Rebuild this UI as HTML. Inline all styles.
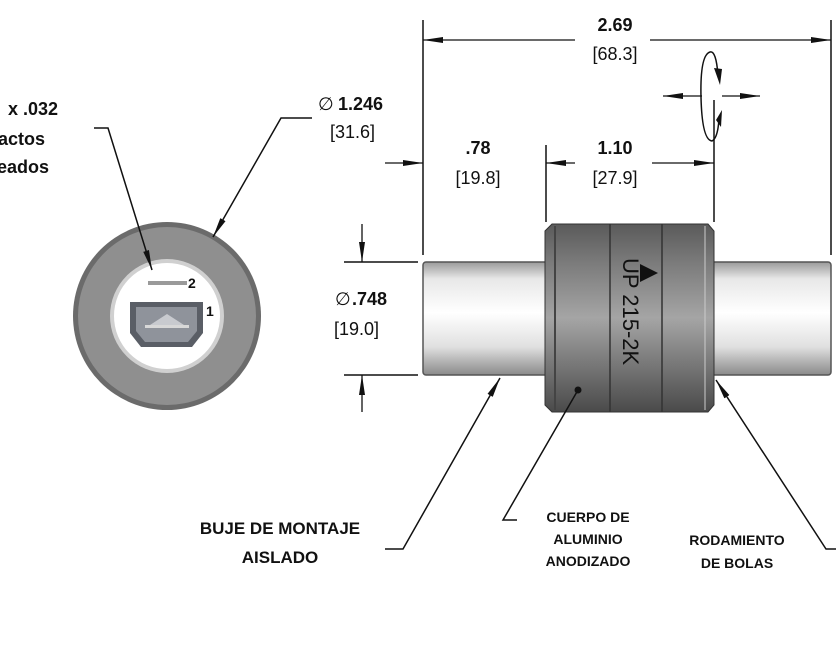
<!DOCTYPE html>
<html><head><meta charset="utf-8"><style>
html,body{margin:0;padding:0;background:#fff;}
svg{display:block;}
text{font-family:"Liberation Sans",sans-serif;fill:#111;}
.b{font-weight:bold;}
</style></head><body>
<svg width="836" height="646" viewBox="0 0 836 646" xmlns="http://www.w3.org/2000/svg">
<defs>
<marker id="big" viewBox="0 0 20 8" refX="20" refY="4" markerWidth="20" markerHeight="8" orient="auto-start-reverse" markerUnits="userSpaceOnUse"><path d="M0,1 L20,4 L0,7 z" fill="#111"/></marker>
<linearGradient id="sh" x1="0" y1="0" x2="0" y2="1">
<stop offset="0" stop-color="#9a9a9a"/><stop offset="0.15" stop-color="#e8e8e8"/><stop offset="0.45" stop-color="#fff"/><stop offset="0.75" stop-color="#e0e0e0"/><stop offset="1" stop-color="#8a8a8a"/></linearGradient>
<linearGradient id="bd" x1="0" y1="0" x2="0" y2="1">
<stop offset="0" stop-color="#5a5a5a"/><stop offset="0.2" stop-color="#7a7a7a"/><stop offset="0.5" stop-color="#a5a5a5"/><stop offset="0.8" stop-color="#6e6e6e"/><stop offset="1" stop-color="#4a4a4a"/></linearGradient>
</defs>

<!-- Left end view -->
<circle cx="167" cy="316" r="94" fill="#6b6b6b"/>
<circle cx="167" cy="316" r="89" fill="#8f8f8f"/>
<circle cx="167" cy="316" r="57" fill="#d0d0d0"/>
<circle cx="167" cy="316" r="53" fill="#fff"/>
<rect x="148" y="281" width="39" height="4" fill="#9a9a9a"/>
<path d="M130,302 H203 V333 L192,347 H141 L130,333 Z" fill="#5a5e66"/>
<path d="M136,307 H197 V331 L188,342 H145 L136,331 Z" fill="#8f939b"/>
<path d="M150,325 L167,314 L184,325 Z" fill="#c8cacf"/>
<rect x="145" y="325" width="44" height="3" fill="#d8d8d8"/>
<text x="188" y="288" class="b" font-size="14">2</text>
<text x="206" y="316" class="b" font-size="14">1</text>

<!-- Left labels -->
<text x="8" y="115" class="b" font-size="18">x .032</text>
<text x="-2" y="145" class="b" font-size="18">actos</text>
<text x="-3" y="173" class="b" font-size="18">eados</text>
<polyline points="94,128 108,128 152,270" fill="none" stroke="#111" stroke-width="1.5" marker-end="url(#big)"/>
<text x="318" y="110" font-size="18" fill="#777">∅</text><text x="338" y="110" class="b" font-size="18">1.246</text>
<text x="330" y="138" font-size="18">[31.6]</text>
<polyline points="312,118 281,118 213,237" fill="none" stroke="#111" stroke-width="1.5" marker-end="url(#big)"/>

<!-- Shaft -->
<rect x="423" y="262" width="408" height="113" rx="3" fill="url(#sh)" stroke="#555" stroke-width="1.5"/>
<!-- Body -->
<path d="M552,224 H708 L714,231 V405 L708,412 H552 L545,405 V231 Z" fill="url(#bd)" stroke="#333" stroke-width="1"/>
<line x1="555" y1="226" x2="555" y2="410" stroke="#444" stroke-width="2"/>
<line x1="610" y1="224" x2="610" y2="412" stroke="#333" stroke-width="1.5"/>
<line x1="662" y1="224" x2="662" y2="412" stroke="#333" stroke-width="1.5"/>
<line x1="705" y1="226" x2="705" y2="410" stroke="#ccc" stroke-width="1"/>
<text transform="translate(623,258) rotate(90)" font-size="22" fill="#111">UP 215-2K</text>
<path d="M640,264 L658,273 L640,282 Z" fill="#111"/>

<!-- Dimensions top -->
<line x1="423" y1="20" x2="423" y2="255" stroke="#111" stroke-width="1.5"/>
<line x1="831" y1="20" x2="831" y2="255" stroke="#111" stroke-width="1.5"/>
<line x1="423" y1="40" x2="575" y2="40" stroke="#111" stroke-width="1.3" marker-start="url(#big)"/>
<line x1="650" y1="40" x2="831" y2="40" stroke="#111" stroke-width="1.3" marker-end="url(#big)"/>
<text x="615" y="31" class="b" font-size="18" text-anchor="middle">2.69</text>
<text x="615" y="60" font-size="18" text-anchor="middle">[68.3]</text>

<line x1="385" y1="163" x2="423" y2="163" stroke="#111" stroke-width="1.3" marker-end="url(#big)"/>
<text x="478" y="154" class="b" font-size="18" text-anchor="middle">.78</text>
<text x="478" y="184" font-size="18" text-anchor="middle">[19.8]</text>

<line x1="546" y1="145" x2="546" y2="222" stroke="#111" stroke-width="1.5"/>
<line x1="714" y1="100" x2="714" y2="222" stroke="#111" stroke-width="1.5"/>
<line x1="546" y1="163" x2="575" y2="163" stroke="#111" stroke-width="1.3" marker-start="url(#big)"/>
<line x1="652" y1="163" x2="714" y2="163" stroke="#111" stroke-width="1.3" marker-end="url(#big)"/>
<text x="615" y="154" class="b" font-size="18" text-anchor="middle">1.10</text>
<text x="615" y="184" font-size="18" text-anchor="middle">[27.9]</text>

<!-- rotation symbol -->
<path d="M718,75 Q716,50 710,52 Q700,55 701,97 Q702,140 712,141 Q718,138 719,118" fill="none" stroke="#111" stroke-width="1.5"/>
<path d="M714,68 L722,69 L720,85 Z" fill="#111"/>
<path d="M716,120 L722,110 L721,127 Z" fill="#111"/>
<line x1="702" y1="96" x2="663" y2="96" stroke="#111" stroke-width="1.3" marker-end="url(#big)"/>
<line x1="722" y1="96" x2="760" y2="96" stroke="#111" stroke-width="1.3" marker-end="url(#big)"/>

<!-- Ø.748 -->
<line x1="344" y1="262" x2="418" y2="262" stroke="#111" stroke-width="1.5"/>
<line x1="344" y1="375" x2="418" y2="375" stroke="#111" stroke-width="1.5"/>
<line x1="362" y1="224" x2="362" y2="262" stroke="#111" stroke-width="1.3" marker-end="url(#big)"/>
<line x1="362" y1="412" x2="362" y2="375" stroke="#111" stroke-width="1.3" marker-end="url(#big)"/>
<text x="335" y="305" font-size="18" fill="#777">∅</text><text x="352" y="305" class="b" font-size="18">.748</text>
<text x="334" y="335" font-size="18">[19.0]</text>

<!-- bottom leaders -->
<polyline points="385,549 403,549 500,378" fill="none" stroke="#111" stroke-width="1.5" marker-end="url(#big)"/>
<text x="280" y="534" class="b" font-size="17" text-anchor="middle">BUJE DE MONTAJE</text>
<text x="280" y="563" class="b" font-size="17" text-anchor="middle">AISLADO</text>
<polyline points="517,520 503,520 578,390" fill="none" stroke="#111" stroke-width="1.5"/>
<circle cx="578" cy="390" r="3.5" fill="#111"/>
<text x="588" y="522" class="b" font-size="14" text-anchor="middle">CUERPO DE</text>
<text x="588" y="544" class="b" font-size="14" text-anchor="middle">ALUMINIO</text>
<text x="588" y="566" class="b" font-size="14" text-anchor="middle">ANODIZADO</text>
<polyline points="836,549 826,549 716,380" fill="none" stroke="#111" stroke-width="1.5" marker-end="url(#big)"/>
<text x="737" y="545" class="b" font-size="14" text-anchor="middle">RODAMIENTO</text>
<text x="737" y="568" class="b" font-size="14" text-anchor="middle">DE BOLAS</text>
</svg>
</body></html>
